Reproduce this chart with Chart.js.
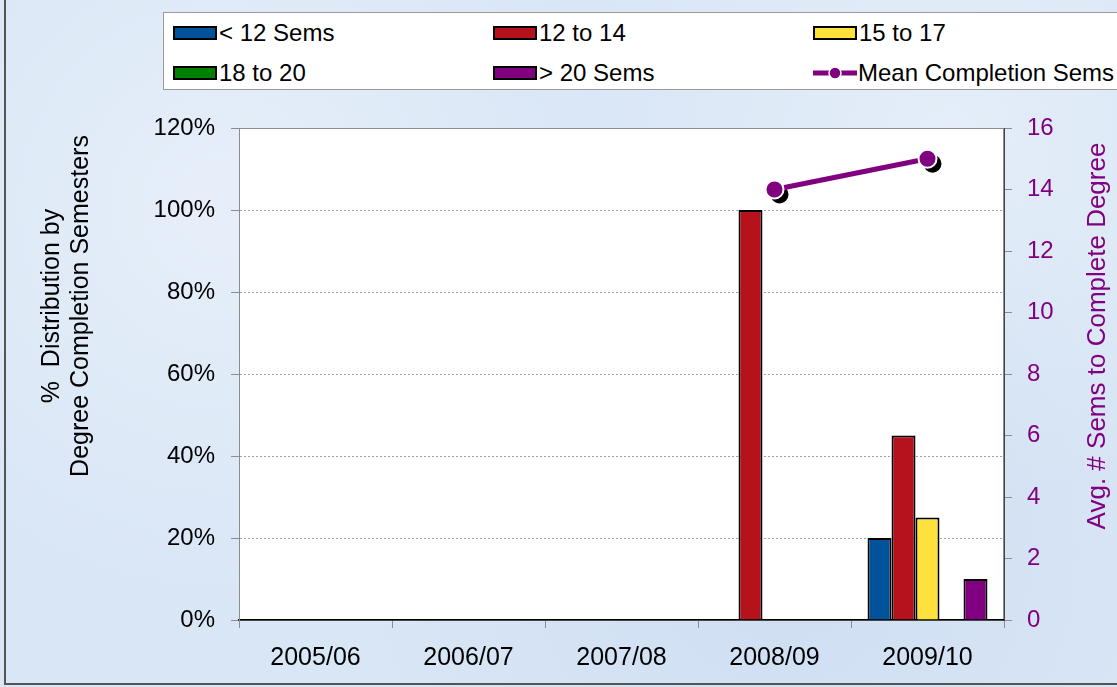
<!DOCTYPE html>
<html>
<head>
<meta charset="utf-8">
<script src="https://cdn.jsdelivr.net/npm/chart.js@4/dist/chart.umd.min.js"></script>
<style>
  html, body { margin: 0; padding: 0; }
  body {
    width: 1117px; height: 687px; overflow: hidden; position: relative;
    font-family: "Liberation Sans", Arial, sans-serif;
    background: #d9e6f6;
    background-image:
      radial-gradient(circle at 20% 30%, rgba(255,255,255,0.35), rgba(255,255,255,0) 40%),
      radial-gradient(circle at 70% 80%, rgba(190,210,235,0.4), rgba(190,210,235,0) 45%),
      radial-gradient(circle at 85% 20%, rgba(255,255,255,0.3), rgba(255,255,255,0) 35%);
  }
  #frame {
    position: absolute; left: 4px; top: 0; width: 1113px; height: 685px;
    border-left: 2px solid #555; border-bottom: 2px solid #555;
    box-sizing: border-box; pointer-events: none;
  }
  #myChart { position: absolute; left: 0; top: 0; }
  #legend {
    position: absolute; left: 163px; top: 12px; width: 970px; height: 78px;
    background: #fff; border: 1px solid #999; box-sizing: border-box;
  }
  .item {
    position: absolute; height: 28px; line-height: 28px;
    font-size: 24px; color: #000; white-space: nowrap;
  }
  .swatch {
    display: inline-block; width: 40px; height: 10px; vertical-align: middle;
    border: 2px solid #000; margin-right: 2px; position: relative; top: -2px;
  }
  .lineSw {
    display: inline-block; width: 44px; height: 16px; vertical-align: middle;
    position: relative; top: -2px; margin-right: 1px;
  }
</style>
</head>
<body>
<canvas id="myChart" width="1117" height="687"></canvas>
<div id="legend"></div>
<div id="frame"></div>
<script>
/*========== DU LIEU ==========*/
const years = ['2005/06', '2006/07', '2007/08', '2008/09', '2009/10'];

const under12 = [null, null, null, null, 20];
const from12to14 = [null, null, null, 100, 45];
const from15to17 = [null, null, null, null, 25];
const from18to20 = [null, null, null, null, null];
const over20 = [null, null, null, null, 10];
const meanSems = [null, null, null, 14, 15];

const seriesNames = ['< 12 Sems', '12 to 14', '15 to 17', '18 to 20', '> 20 Sems', 'Mean Completion Sems'];
const pctTicks = [0, 20, 40, 60, 80, 100, 120];
const semTicks = [0, 2, 4, 6, 8, 10, 12, 14, 16];

const FONT = '"Liberation Sans", Arial, sans-serif';
const PURPLE = '#800080';

function barSet(label, data, color) {
  return {
    type: 'bar',
    label: label,
    data: data,
    backgroundColor: color,
    borderColor: '#000',
    borderWidth: 2,
    borderSkipped: 'bottom',
    yAxisID: 'y',
    order: 2
  };
}

// ve nen trang cho vung ve + vien
const areaPlugin = {
  id: 'areaBg',
  beforeDraw(chart) {
    const a = chart.chartArea;
    const c = chart.ctx;
    c.save();
    c.fillStyle = '#fff';
    c.fillRect(a.left, a.top, a.right - a.left, a.bottom - a.top);
    c.strokeStyle = '#8c8c8c';
    c.lineWidth = 1;
    c.strokeRect(a.left + 0.5, a.top + 0.5, a.right - a.left - 1, a.bottom - a.top);
    c.restore();
  }
};

// bong den duoi cac diem cua duong trung binh
const shadowPlugin = {
  id: 'pointShadow',
  beforeDatasetDraw(chart, args) {
    if (args.index !== 5) return;
    const c = chart.ctx;
    c.save();
    c.fillStyle = '#000';
    args.meta.data.forEach((pt, i) => {
      if (meanSems[i] == null) return;
      c.beginPath();
      c.arc(pt.x + 5, pt.y + 5, 9, 0, Math.PI * 2);
      c.fill();
    });
    c.restore();
  }
};

// tieu de truc (xoay doc, doc tu duoi len)
const titlePlugin = {
  id: 'axisTitles',
  afterDraw(chart) {
    const c = chart.ctx;
    c.save();
    c.font = '25px ' + FONT;
    c.textAlign = 'center';
    c.textBaseline = 'middle';
    c.fillStyle = '#000';
    c.translate(52, 306);
    c.rotate(-Math.PI / 2);
    c.fillText('%  Distribution by', 0, 0);
    c.fillText('Degree Completion Semesters', 0, 29);
    c.restore();

    c.save();
    c.font = '26px ' + FONT;
    c.textAlign = 'center';
    c.textBaseline = 'middle';
    c.fillStyle = PURPLE;
    c.translate(1098, 336);
    c.rotate(-Math.PI / 2);
    c.fillText('Avg. # Sems to Complete Degree', 0, 0);
    c.restore();
  }
};

const ctx = document.getElementById('myChart').getContext('2d');

const chart = new Chart(ctx, {
  data: {
    labels: years,
    datasets: [
      barSet(seriesNames[0], under12, '#00529b'),
      barSet(seriesNames[1], from12to14, '#b5121b'),
      barSet(seriesNames[2], from15to17, '#ffe13c'),
      barSet(seriesNames[3], from18to20, '#008000'),
      barSet(seriesNames[4], over20, PURPLE),
      {
        type: 'line',
        label: seriesNames[5],
        data: meanSems,
        borderColor: PURPLE,
        borderWidth: 5,
        pointBackgroundColor: PURPLE,
        pointBorderColor: '#fff',
        pointBorderWidth: 2,
        pointRadius: 9,
        spanGaps: false,
        yAxisID: 'y1',
        order: 0
      }
    ]
  },
  options: {
    responsive: false,
    animation: false,
    devicePixelRatio: 1,
    layout: { padding: { top: 128, left: 0, right: 0, bottom: 0 } },
    plugins: {
      legend: { display: false },
      tooltip: { enabled: false }
    },
    datasets: {
      bar: { barPercentage: 1, categoryPercentage: 0.784 }
    },
    scales: {
      x: {
        offset: true,
        grid: {
          offset: true,
          drawOnChartArea: false,
          tickLength: 8,
          tickColor: '#8c8c8c'
        },
        border: { color: '#000', width: 1.5 },
        ticks: {
          color: '#000',
          padding: 15,
          font: { family: FONT, size: 25 },
          maxRotation: 0
        },
        afterFit(scale) { scale.height = 67; }
      },
      y: {
        position: 'left',
        min: 0,
        max: 120,
        afterBuildTicks(scale) { scale.ticks = pctTicks.map(v => ({ value: v })); },
        grid: {
          color: (c) => (c.tick && (c.tick.value === 0 || c.tick.value === 120)) ? 'rgba(0,0,0,0)' : '#a0a0a0',
          tickColor: '#8c8c8c',
          tickLength: 8,
          tickBorderDash: []
        },
        border: { display: true, color: '#8c8c8c', width: 1, dash: [2, 2] },
        ticks: {
          color: '#000',
          padding: 16,
          font: { family: FONT, size: 24 },
          callback: (v) => v + '%'
        },
        afterFit(scale) { scale.width = 239; }
      },
      y1: {
        position: 'right',
        min: 0,
        max: 16,
        afterBuildTicks(scale) { scale.ticks = semTicks.map(v => ({ value: v })); },
        grid: {
          drawOnChartArea: false,
          tickColor: '#8c8c8c',
          tickLength: 8
        },
        border: { color: '#444', width: 1 },
        ticks: {
          color: PURPLE,
          padding: 15,
          font: { family: FONT, size: 24 }
        },
        afterFit(scale) { scale.width = 113; }
      }
    }
  },
  plugins: [areaPlugin, shadowPlugin, titlePlugin]
});

/*========== LEGEND (HTML) ==========*/
const legendEl = document.getElementById('legend');
chart.data.datasets.forEach((ds, i) => {
  const div = document.createElement('div');
  div.className = 'item';
  div.style.left = (9 + (i % 3) * 320) + 'px';
  div.style.top = (i < 3 ? 6 : 46) + 'px';
  if (ds.type === 'bar') {
    div.innerHTML = `<span class="swatch" style="background:${ds.backgroundColor}"></span>`;
  } else {
    div.innerHTML = `<svg class="lineSw" viewBox="0 0 44 16"><line x1="0" y1="8" x2="44" y2="8" stroke="${ds.borderColor}" stroke-width="5"/><circle cx="22" cy="8" r="6" fill="${ds.borderColor}" stroke="#fff" stroke-width="1.5"/></svg>`;
  }
  div.appendChild(document.createTextNode(ds.label));
  legendEl.appendChild(div);
});
</script>
</body>
</html>
